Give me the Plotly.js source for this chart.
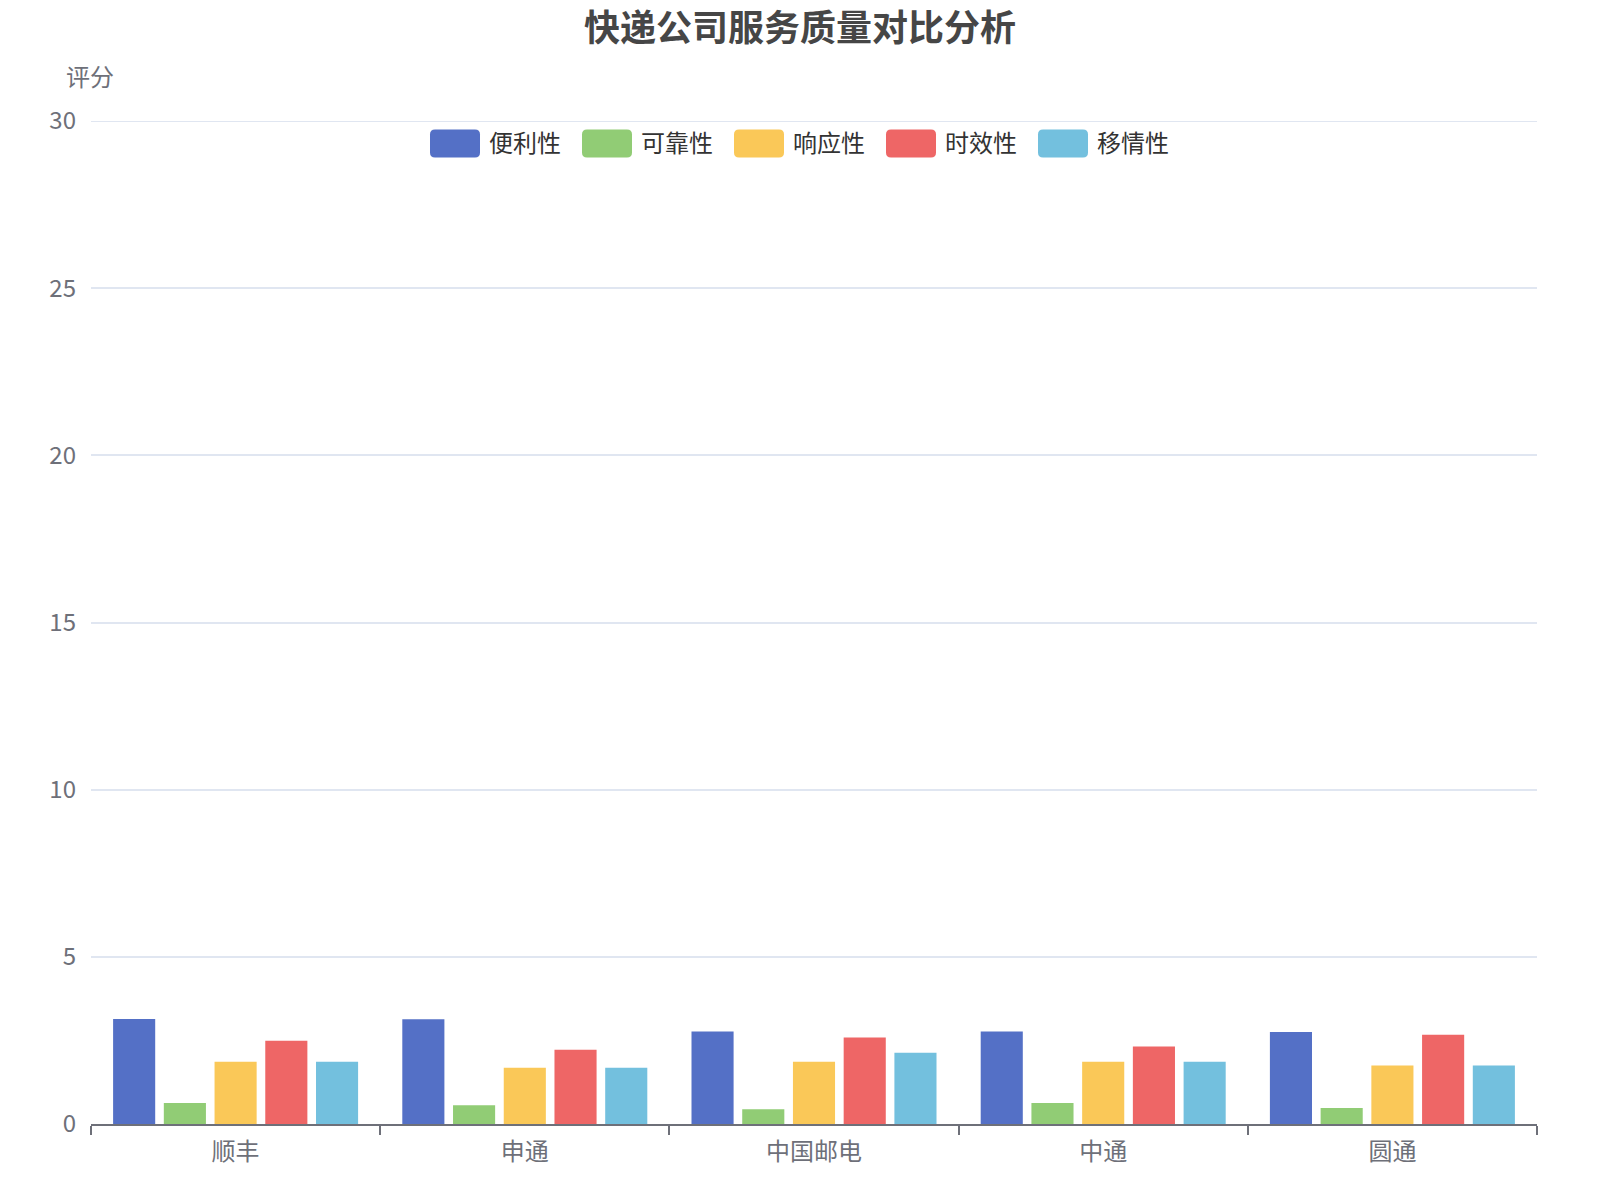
<!DOCTYPE html>
<html>
<head>
<meta charset="utf-8">
<script src="https://cdn.plot.ly/plotly-3.0.1.min.js"></script>
<style>
  body { margin: 0; background: #fff; }
  #chart { width: 1600px; height: 1200px; }
</style>
</head>
<body>
<div id="chart"></div>
<script>
// companies on the x axis
const companies = ['顺丰', '申通', '中国邮电', '中通', '圆通'];

// one array per service dimension (score)
const seriesNames = ['便利性', '可靠性', '响应性', '时效性', '移情性'];
const convenience = [3.14, 3.13, 2.77, 2.77, 2.75];
const reliability = [0.63, 0.56, 0.44, 0.63, 0.48];
const response    = [1.86, 1.68, 1.86, 1.86, 1.75];
const timeliness  = [2.49, 2.22, 2.59, 2.32, 2.67];
const empathy     = [1.86, 1.68, 2.13, 1.86, 1.75];
const seriesValues = [convenience, reliability, response, timeliness, empathy];

const colors = ['#5470c6', '#91cc75', '#fac858', '#ee6666', '#73c0de'];
const yTicks = [0, 5, 10, 15, 20, 25, 30];
const yMax = 30;

const W = 1600, H = 1200;
const margin = {l: 91, r: 63, t: 121, b: 76};
const plotW = W - margin.l - margin.r;
const plotH = H - margin.t - margin.b;

const font = '"Noto Sans CJK SC", "Noto Sans", sans-serif';

const traces = seriesNames.map((name, i) => ({
    type: 'bar',
    name: name,
    x: companies,
    y: seriesValues[i],
    marker: {color: colors[i], line: {width: 0}},
    hoverinfo: 'x+y+name'
}));

// top gridline (plotly skips the one sitting on the plot edge)
const shapes = [{
    type: 'line', xref: 'paper', yref: 'y', x0: 0, x1: 1, y0: yMax, y1: yMax,
    line: {color: '#E0E6F1', width: 2}, layer: 'below'
}];

// custom legend: rounded swatches like the reference
const legendPitch = 152;          // px between items
const legendFirst = 455;          // px, centre of first swatch
const legendY = 143.5;            // px from top
const annotations = [];
const rr = 'M-20,-14 H20 Q25,-14 25,-9 V9 Q25,14 20,14 H-20 Q-25,14 -25,9 V-9 Q-25,-14 -20,-14 Z';
seriesNames.forEach((name, i) => {
    const cx = (legendFirst + i * legendPitch - margin.l) / plotW;
    const cy = (H - margin.b - legendY) / plotH;
    shapes.push({
        type: 'path', xref: 'paper', yref: 'paper',
        xsizemode: 'pixel', ysizemode: 'pixel',
        xanchor: cx, yanchor: cy, path: rr,
        fillcolor: colors[i], line: {width: 0}
    });
    annotations.push({
        xref: 'paper', yref: 'paper', x: cx, y: cy,
        xshift: 32, yshift: 2, xanchor: 'left', yanchor: 'middle',
        text: name, showarrow: false,
        font: {family: font, size: 24, color: '#333'}
    });
});

// y axis name
annotations.push({
    xref: 'paper', yref: 'paper', x: 0, y: 1,
    xshift: -1, yshift: 46, xanchor: 'center', yanchor: 'middle',
    text: '评分', showarrow: false,
    font: {family: font, size: 24, color: '#6E7079'}
});

const layout = {
    width: W, height: H,
    margin: margin,
    paper_bgcolor: '#fff', plot_bgcolor: '#fff',
    font: {family: font, color: '#6E7079'},
    title: {
        text: '<b>快递公司服务质量对比分析</b>',
        xref: 'container', x: 0.5, xanchor: 'center',
        yref: 'container', y: 1 - 28 / H, yanchor: 'middle',
        font: {family: font, size: 36, color: '#464646'}
    },
    showlegend: false,
    barmode: 'group',
    bargap: 0.123,
    bargroupgap: 0.17,
    xaxis: {
        type: 'category',
        categoryarray: companies,
        showgrid: false,
        showline: true, linecolor: '#6E7079', linewidth: 2,
        ticks: 'outside', tickson: 'boundaries', ticklen: 9, tickwidth: 2, tickcolor: '#6E7079',
        ticklabelstandoff: 5,
        tickfont: {family: font, size: 24, color: '#6E7079'},
        zeroline: false, fixedrange: true
    },
    yaxis: {
        range: [0, yMax],
        tickvals: yTicks,
        showgrid: true, gridcolor: '#E0E6F1', gridwidth: 2,
        showline: false, zeroline: false,
        ticks: '', ticklabelstandoff: 14,
        tickfont: {family: font, size: 24, color: '#6E7079'},
        fixedrange: true
    },
    shapes: shapes,
    annotations: annotations
};

Plotly.newPlot('chart', traces, layout, {displayModeBar: false, staticPlot: true});
</script>
</body>
</html>
